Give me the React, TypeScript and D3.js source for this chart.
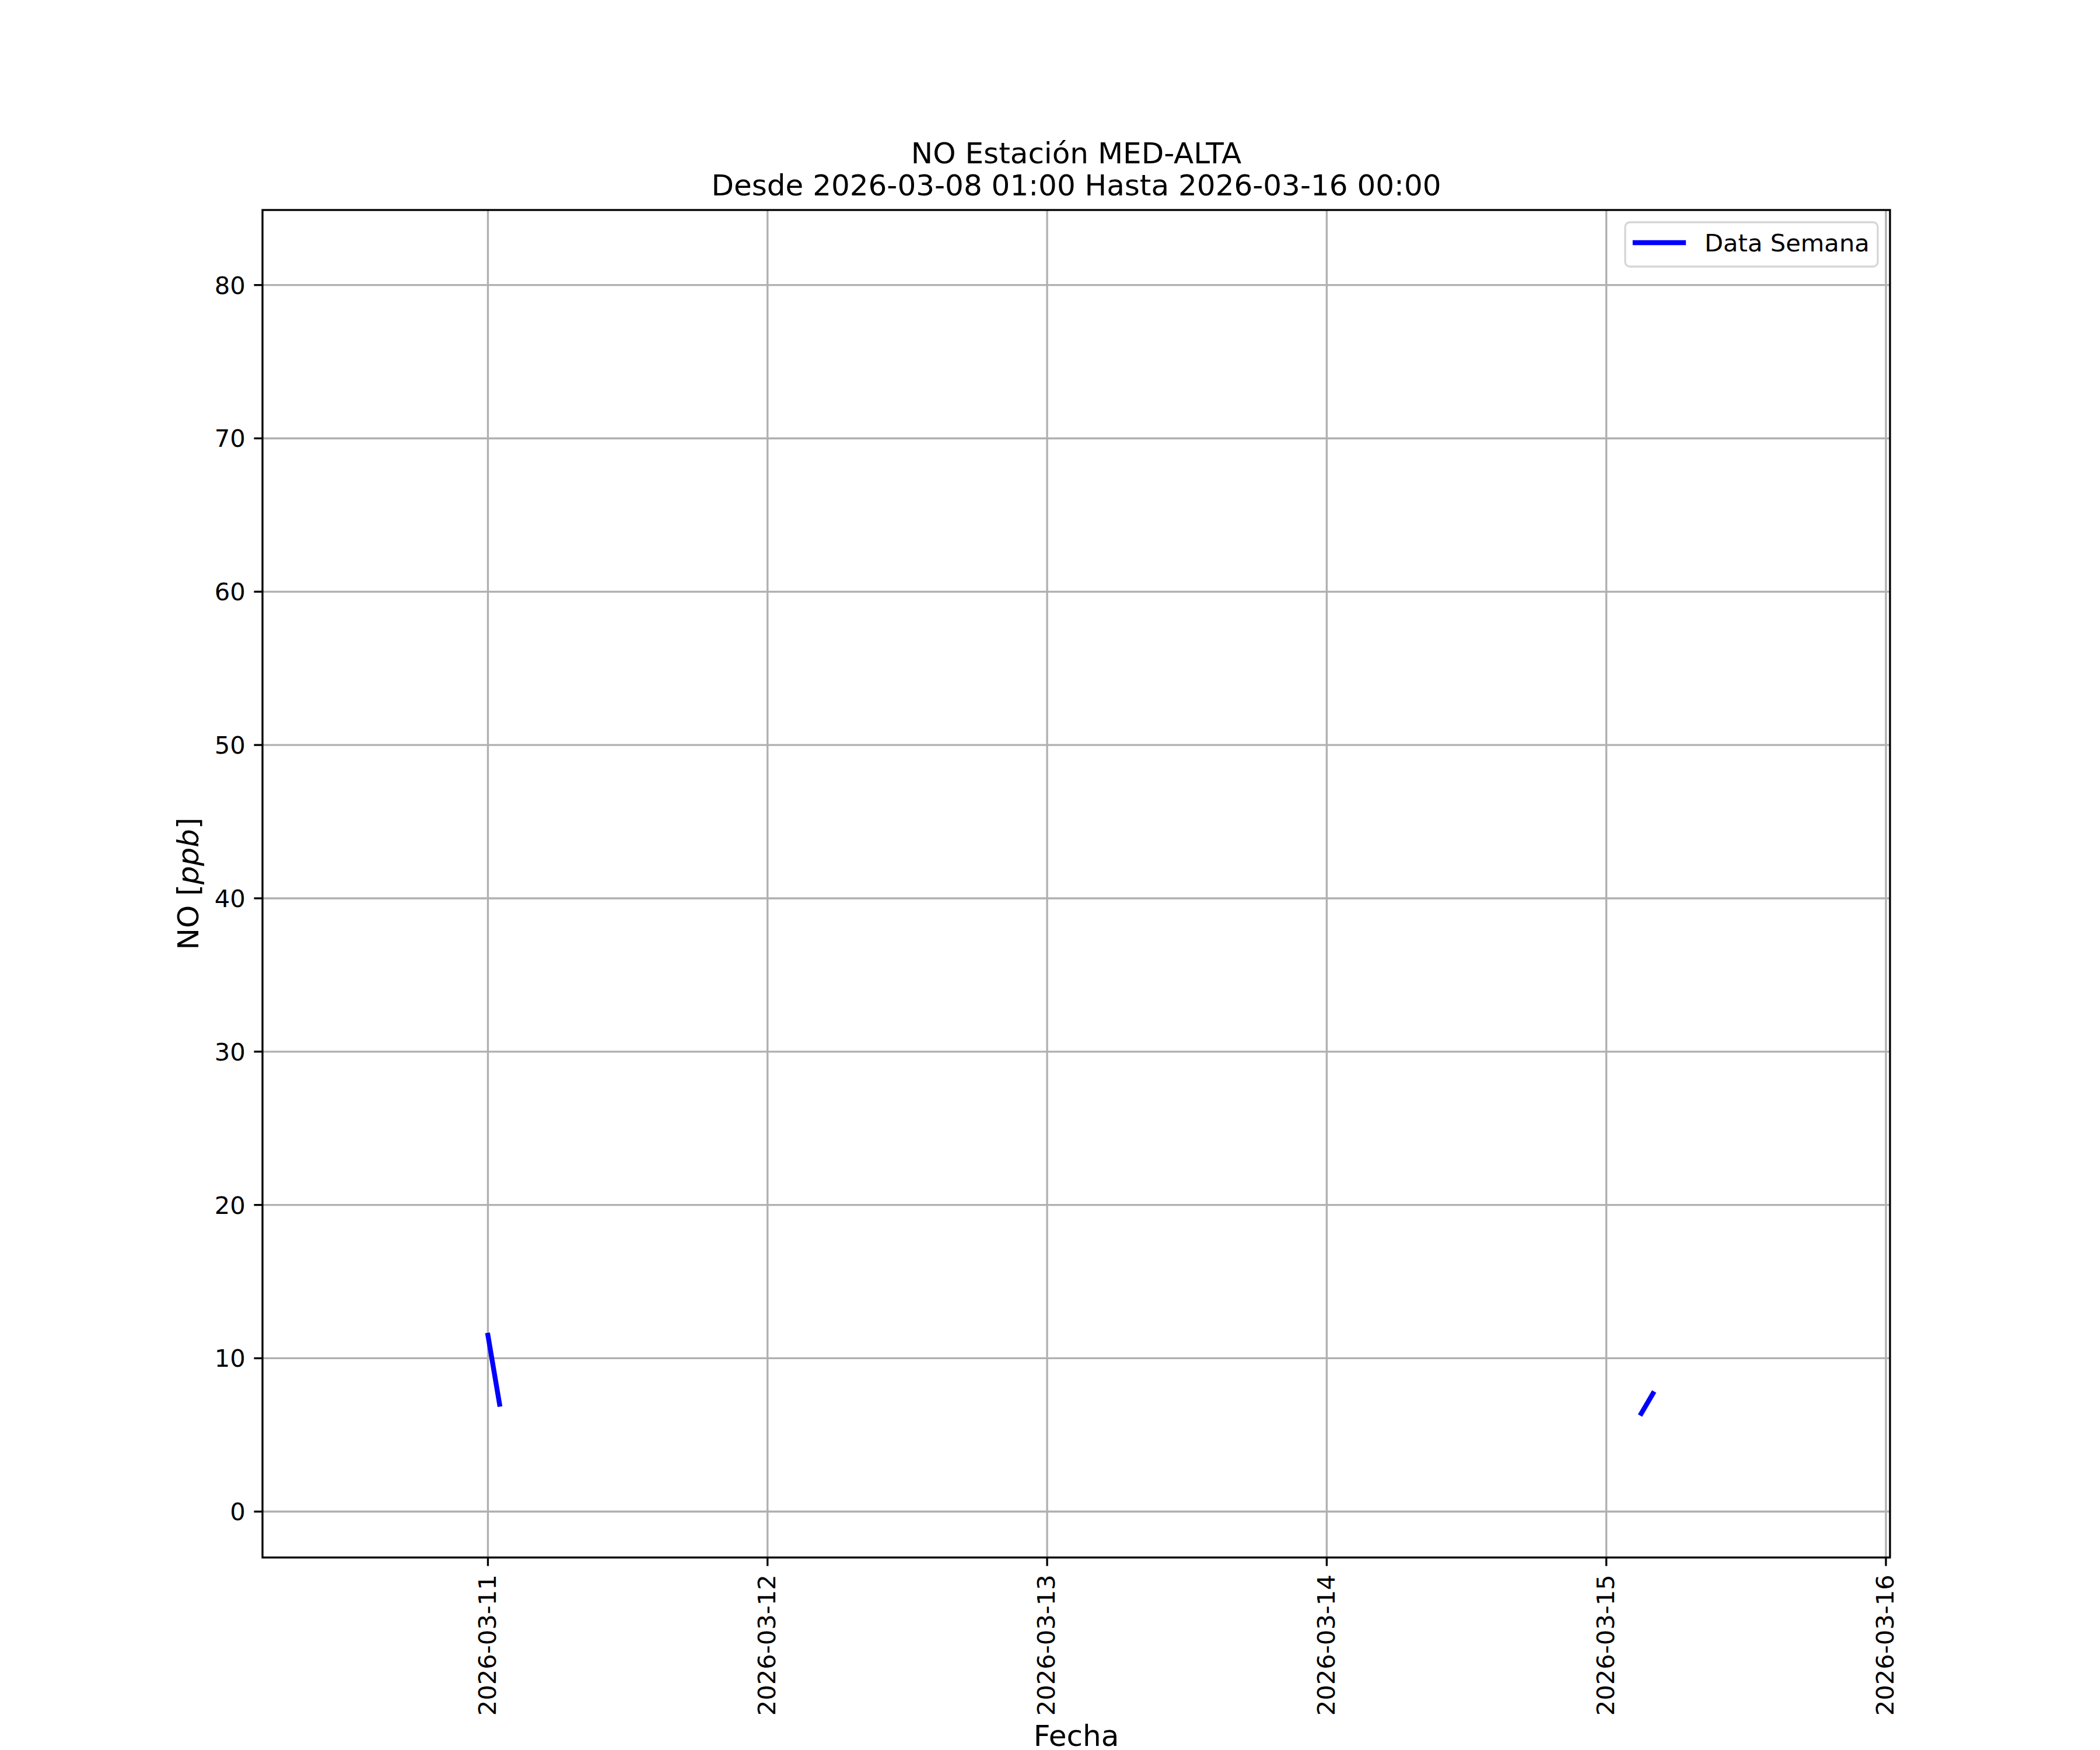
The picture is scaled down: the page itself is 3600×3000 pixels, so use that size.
import React from 'react';
import * as d3 from 'd3';

// hourly NO readings, null = missing hour
const sampleTimes = ['2026-03-11 00:00', '2026-03-11 01:00', '2026-03-11 02:00', '2026-03-15 02:00', '2026-03-15 03:00', '2026-03-15 04:00'];
const noValues = [11.5, 7.0, null, null, 6.4, 7.7];

// span of the full hourly record (most hours are isolated points / gaps) used for autoscale
const dataTimeSpan = ['2026-03-10 11:00', '2026-03-15 18:00'];
const dataValueSpan = [1.0, 80.9];

const xTickLabels = ['2026-03-11', '2026-03-12', '2026-03-13', '2026-03-14', '2026-03-15', '2026-03-16'];
const yTickValues = [0, 10, 20, 30, 40, 50, 60, 70, 80];

const titleLines = ['NO Estación MED-ALTA', 'Desde 2026-03-08 01:00 Hasta 2026-03-16 00:00'];
const legendLabel = 'Data Semana';

const FONT = '"DejaVu Sans", sans-serif';
const parseTime = d3.utcParse('%Y-%m-%d %H:%M');
const parseDay = d3.utcParse('%Y-%m-%d');

export default function App() {
  const W = 3600, H = 3000;
  const m = { l: 450, r: 3240, t: 360, b: 2670 };
  const pt = 300 / 72;
  const gridW = 0.8 * pt, tickLen = 3.5 * pt, pad = 3.5 * pt;
  const tickFs = 10 * pt, labelFs = 12 * pt;

  const t0 = parseTime(dataTimeSpan[0])!.getTime();
  const t1 = parseTime(dataTimeSpan[1])!.getTime();
  const tm = (t1 - t0) * 0.05;
  const x = d3.scaleUtc().domain([new Date(t0 - tm), new Date(t1 + tm)]).range([m.l, m.r]);
  const vm = (dataValueSpan[1] - dataValueSpan[0]) * 0.05;
  const y = d3.scaleLinear().domain([dataValueSpan[0] - vm, dataValueSpan[1] + vm]).range([m.b, m.t]);

  const pts = sampleTimes.map((s, i) => ({ t: parseTime(s)!, v: noValues[i] }));
  const line = d3.line<{ t: Date; v: number | null }>()
    .defined(d => d.v != null)
    .x(d => x(d.t))
    .y(d => y(d.v as number));

  const xTicks = xTickLabels.map(s => ({ label: s, px: x(parseDay(s)!) }));
  const cx = (m.l + m.r) / 2, cy = (m.t + m.b) / 2;

  return (
    <svg width={W} height={H} style={{ position: 'absolute', left: 0, top: 0, background: '#fff' }} fontFamily={FONT}>
      <rect x={0} y={0} width={W} height={H} fill="#fff" />
      <defs>
        <clipPath id="plotArea"><rect x={m.l} y={m.t} width={m.r - m.l} height={m.b - m.t} /></clipPath>
      </defs>

      {/* grid */}
      <g stroke="#b0b0b0" strokeWidth={gridW}>
        {xTicks.map(d => <line key={d.label} x1={d.px} x2={d.px} y1={m.t} y2={m.b} />)}
        {yTickValues.map(v => <line key={v} x1={m.l} x2={m.r} y1={y(v)} y2={y(v)} />)}
      </g>

      <path d={line(pts) || ''} fill="none" stroke="#0000ff" strokeWidth={2 * pt} strokeLinecap="square" clipPath="url(#plotArea)" />

      {/* spines */}
      <rect x={m.l} y={m.t} width={m.r - m.l} height={m.b - m.t} fill="none" stroke="#000" strokeWidth={gridW} />

      {/* x ticks */}
      <g>
        {xTicks.map(d => (
          <g key={d.label}>
            <line x1={d.px} x2={d.px} y1={m.b} y2={m.b + tickLen} stroke="#000" strokeWidth={gridW} />
            <text transform={`translate(${d.px},${m.b + tickLen + pad}) rotate(-90)`} textAnchor="end" dy="0.32em" fontSize={tickFs}>{d.label}</text>
          </g>
        ))}
      </g>

      {/* y ticks */}
      <g>
        {yTickValues.map(v => (
          <g key={v}>
            <line x1={m.l - tickLen} x2={m.l} y1={y(v)} y2={y(v)} stroke="#000" strokeWidth={gridW} />
            <text x={m.l - tickLen - pad} y={y(v)} dy="0.36em" textAnchor="end" fontSize={tickFs}>{v}</text>
          </g>
        ))}
      </g>

      {/* axis labels */}
      <text x={cx} y={2993} textAnchor="middle" fontSize={labelFs}>Fecha</text>
      <text transform={`translate(340,${cy}) rotate(-90)`} textAnchor="middle" fontSize={labelFs}>
        NO [<tspan fontStyle="italic">ppb</tspan>]
      </text>

      {/* title */}
      <text x={cx} y={280} textAnchor="middle" fontSize={labelFs}>{titleLines[0]}</text>
      <text x={cx} y={335} textAnchor="middle" fontSize={labelFs}>{titleLines[1]}</text>

      {/* legend */}
      <g>
        <rect x={2786} y={381} width={433} height={76} rx={8} fill="#fff" fillOpacity={0.8} stroke="#cccccc" strokeOpacity={0.8} strokeWidth={gridW} />
        <line x1={2803} x2={2886} y1={416} y2={416} stroke="#0000ff" strokeWidth={2 * pt} strokeLinecap="square" />
        <text x={2922} y={431} fontSize={tickFs}>{legendLabel}</text>
      </g>
    </svg>
  );
}
